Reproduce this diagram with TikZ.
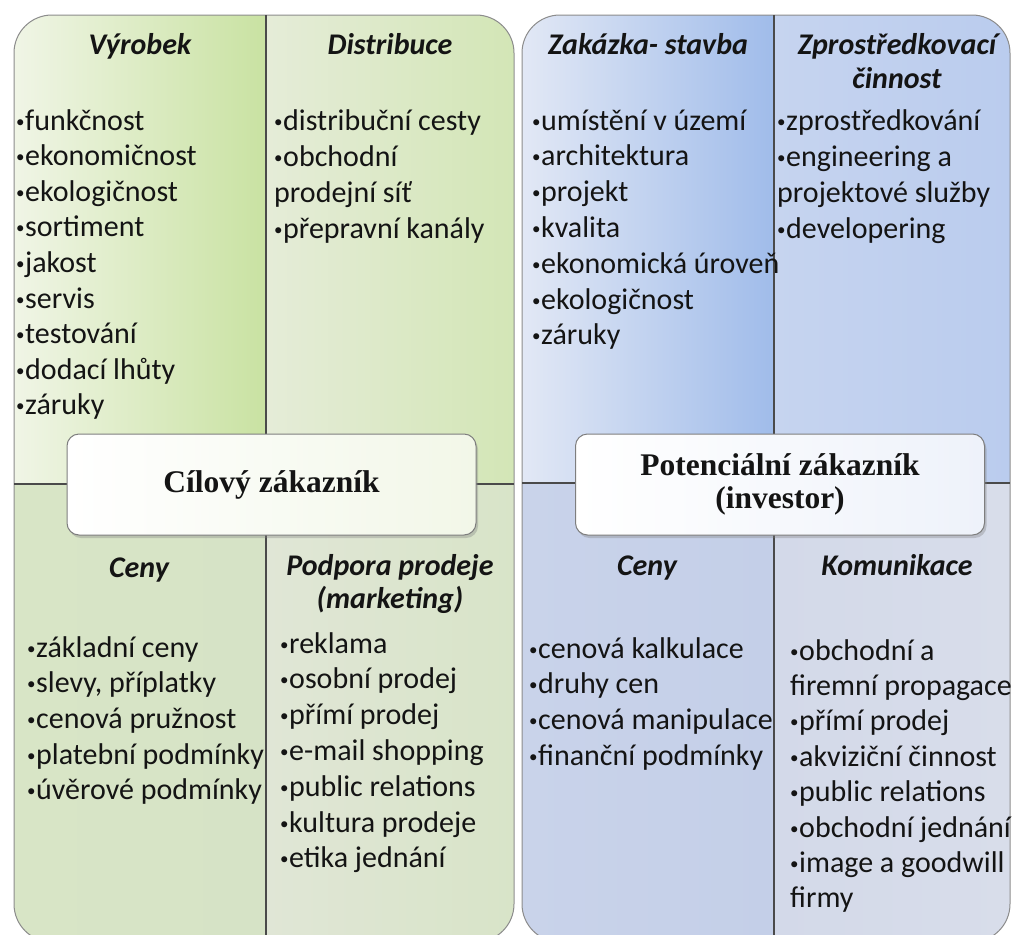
\documentclass[tikz,border=0pt]{standalone}
\usepackage{fontspec}
\setmainfont{Carlito}
\newfontfamily\tnr{Liberation Serif}
\usetikzlibrary{shadows}
\definecolor{gAa}{HTML}{F0F5E6}\definecolor{gAb}{HTML}{C9E2A2}
\definecolor{gBa}{HTML}{E5ECD8}\definecolor{gBb}{HTML}{D3E6B6}
\definecolor{gCa}{HTML}{D8E5C6}\definecolor{gCb}{HTML}{D6E3C6}
\definecolor{gDa}{HTML}{E0E6D6}\definecolor{gDb}{HTML}{D8E4C8}
\definecolor{bAa}{HTML}{E2E8F5}\definecolor{bAb}{HTML}{A0BCEA}
\definecolor{bBa}{HTML}{C6D4EF}\definecolor{bBb}{HTML}{BACCEE}
\definecolor{bCa}{HTML}{C9D3EA}\definecolor{bCb}{HTML}{C4CFE8}
\definecolor{bDa}{HTML}{D3D9E9}\definecolor{bDb}{HTML}{D8DDEA}
\definecolor{panelline}{HTML}{8C8C8C}
\definecolor{divline}{HTML}{4A4A4A}
\definecolor{txt}{HTML}{141414}
\definecolor{boxg}{HTML}{F2F7E8}
\definecolor{boxb}{HTML}{EEF2FA}
\newcommand\itemfont{\fontsize{30}{34}\selectfont}
\newcommand\headfont{\fontsize{30}{34}\selectfont\bfseries\itshape}
\newcommand\boxfont{\tnr\bfseries\fontsize{31.5}{35}\selectfont}
\newcommand\bu{\makebox[9pt][l]{\fontsize{17}{17}\selectfont\raisebox{3pt}{•}}}
\newcommand\itemlist[5]{%
  \foreach \t [count=\i from 0] in {#5} {\node[item] (#1\i) at (#2,{#3+#4*\i}) {\t};}}
\tikzset{
  item/.style={anchor=base west, inner sep=0pt, font=\itemfont, text=txt},
  head/.style={anchor=base, inner sep=0pt, font=\headfont, text=txt},
  panel/.style={draw=panelline, line width=1pt, rounded corners=38pt},
  divider/.style={draw=divline, line width=1.1pt},
  centerbox/.style={draw=panelline!90!black, line width=1pt, rounded corners=12pt,
     minimum width=409pt, minimum height=101pt, align=center, font=\boxfont, text=txt,
     drop shadow={shadow xshift=2pt, shadow yshift=-3pt, opacity=0.35}},
}
\begin{document}
\begin{tikzpicture}[x=1pt,y=-1pt]
\useasboundingbox (0,0) rectangle (1013,935);
\fill[white] (0,0) rectangle (1013,935);
\clip (0,0) rectangle (1013,935);
% ---------- left panel ----------
\begin{scope}
  \clip[rounded corners=38pt] (14,15) rectangle (514,942);
  \shade[left color=gAa, right color=gAb] (14,15) rectangle (266,484);
  \shade[left color=gBa, right color=gBb] (266,15) rectangle (514,484);
  \shade[left color=gCa, right color=gCb] (14,484) rectangle (266,942);
  \shade[left color=gDa, right color=gDb] (266,484) rectangle (514,942);
\end{scope}
\draw[panel] (14,15) rectangle (514,942);
\coordinate (lvt) at (266,15); \coordinate (lvb) at (266,942);
\coordinate (lhl) at (14,484); \coordinate (lhr) at (514,484);
\draw[divider] (lvt) -- (lvb);
\draw[divider] (lhl) -- (lhr);
% ---------- right panel ----------
\begin{scope}
  \clip[rounded corners=38pt] (522,15) rectangle (1010,942);
  \shade[left color=bAa, right color=bAb] (522,15) rectangle (774,483);
  \shade[left color=bBa, right color=bBb] (774,15) rectangle (1010,483);
  \shade[left color=bCa, right color=bCb] (522,483) rectangle (774,942);
  \shade[left color=bDa, right color=bDb] (774,483) rectangle (1010,942);
\end{scope}
\draw[panel] (522,15) rectangle (1010,942);
\coordinate (rvt) at (774,15); \coordinate (rvb) at (774,942);
\coordinate (rhl) at (522,483); \coordinate (rhr) at (1010,483);
\draw[divider] (rvt) -- (rvb);
\draw[divider] (rhl) -- (rhr);
% ---------- headings ----------
\node[head] (h1) at (140,54) {Výrobek};
\node[head] (h2) at (390,54) {Distribuce};
\node[head] (h3) at (648,54) {Zakázka- stavba};
\node[head] (h4a) at (897,54) {Zprostředkovací};
\node[head] (h4b) at (897,88) {činnost};
\node[head] (h5) at (139,577) {Ceny};
\node[head] (h6a) at (390,575) {Podpora prodeje};
\node[head] (h6b) at (390,608) {(marketing)};
\node[head] (h7) at (647,575) {Ceny};
\node[head] (h8) at (897,575) {Komunikace};
% ---------- items ----------
\itemlist{a}{16}{130}{35.6}{\bu funkčnost,\bu ekonomičnost,\bu ekologičnost,\bu sortiment,\bu jakost,\bu servis,\bu testování,\bu dodací lhůty,\bu záruky}
\itemlist{b}{274}{130}{36}{\bu distribuční cesty,\bu obchodní,prodejní síť,\bu přepravní kanály}
\itemlist{c}{532}{130}{35.8}{\bu umístění v území,\bu architektura,\bu projekt,\bu kvalita,\bu ekonomická úroveň,\bu ekologičnost,\bu záruky}
\itemlist{d}{777}{130}{36}{\bu zprostředkování,\bu engineering a,projektové služby,\bu developering}
\itemlist{e}{27}{657}{35.7}{\bu základní ceny,{\bu slevy, příplatky},\bu cenová pružnost,\bu platební podmínky,\bu úvěrové podmínky}
\itemlist{f}{280}{653}{35.8}{\bu reklama,\bu osobní prodej,\bu přímí prodej,\bu e-mail shopping,\bu public relations,\bu kultura prodeje,\bu etika jednání}
\itemlist{g}{529}{658}{35.7}{\bu cenová kalkulace,\bu druhy cen,\bu cenová manipulace,\bu finanční podmínky}
\itemlist{k}{790}{660}{35.4}{\bu obchodní a,firemní propagace,\bu přímí prodej,\bu akviziční činnost,\bu public relations,\bu obchodní jednání,\bu image a goodwill,firmy}
% ---------- centre boxes ----------
\node[centerbox, left color=white, right color=boxg] (cz) at (271.5,484.5) {Cílový zákazník};
\node[centerbox, left color=white, right color=boxb] (pz) at (780,484.5) {Potenciální zákazník\\[-2pt](investor)};
\end{tikzpicture}
\end{document}
